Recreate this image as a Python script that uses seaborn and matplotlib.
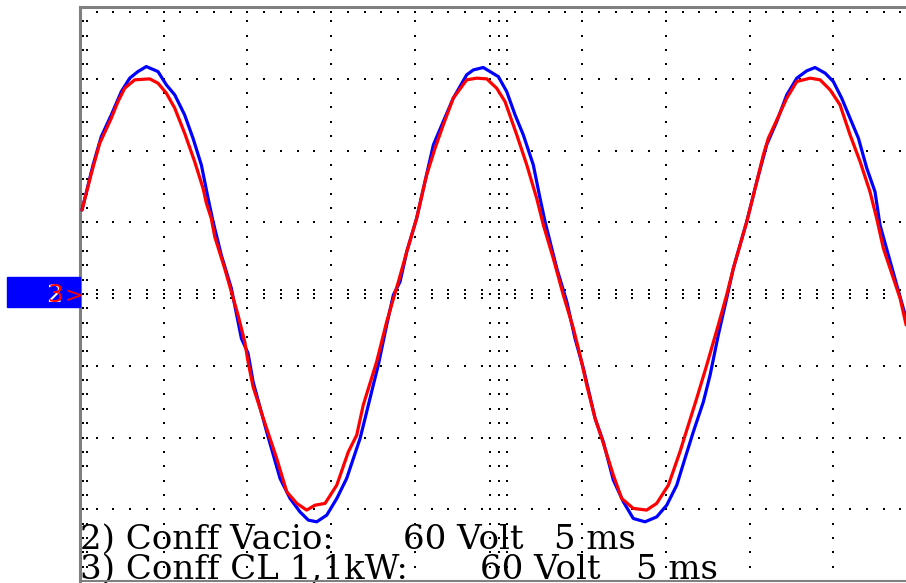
import numpy as np
import pandas as pd
import matplotlib
matplotlib.use("Agg")
import matplotlib.pyplot as plt
from matplotlib.patches import Rectangle
import seaborn as sns

# ---- data (time in ms, voltage in V) ----
blue_t = [0.12, 0.78, 1.27, 1.87, 2.47, 2.97, 3.46, 3.96, 4.66, 5.16, 5.66, 6.25, 6.75, 7.25,
          7.65, 7.95, 8.44, 9.04, 9.64, 10.04, 10.34, 11.15, 11.95, 12.55, 13.14, 13.64, 14.14,
          14.74, 15.34, 15.93, 16.33, 16.73, 17.03, 17.52, 17.82, 18.32, 18.72, 19.12, 19.52,
          20.11, 20.61, 21.11, 21.70, 22.30, 23.10, 23.50, 24.09, 24.99, 25.49, 25.99, 26.48,
          27.08, 27.48, 27.78, 28.48, 29.08, 29.57, 30.07, 30.77, 31.26, 31.86, 32.46, 33.05,
          33.75, 34.45, 35.05, 35.65, 36.14, 36.64, 37.24, 37.64, 38.13, 38.63, 39.03, 39.83,
          40.43, 41.02, 41.62, 42.22, 42.82, 43.41, 43.91, 44.51, 45.00, 45.50, 46.00, 46.50,
          47.00, 47.49, 47.79, 48.29, 48.79, 49.35]
blue_v = [70.3, 107.9, 131.6, 149.8, 169.3, 180.5, 186.0, 190.2, 186.0, 174.9, 166.5, 149.8,
          130.3, 107.9, 80.1, 60.5, 32.6, 4.8, -37.1, -49.6, -73.4, -115.2, -154.2, -171.0,
          -182.2, -189.1, -190.5, -184.9, -171.0, -154.2, -137.5, -120.8, -104.0, -76.1, -59.4,
          -25.9, -0.8, 10.3, 35.4, 63.3, 94.0, 124.7, 144.2, 163.8, 183.3, 187.4, 189.4, 181.8,
          169.3, 149.8, 133.1, 107.9, 80.1, 60.5, 21.5, -6.4, -37.1, -62.2, -104.0, -123.6,
          -155.6, -173.8, -187.7, -190.5, -186.4, -176.6, -159.8, -137.5, -115.2, -90.1, -67.8,
          -34.3, -3.6, 21.5, 60.5, 94.0, 124.7, 144.2, 166.5, 180.5, 186.6, 189.4, 184.7, 177.7,
          163.8, 147.0, 130.3, 105.2, 85.6, 57.7, 32.6, 7.5, -20.3]

red_t = [0.12, 0.68, 1.18, 1.87, 2.27, 2.67, 3.27, 4.16, 4.66, 5.16, 5.66, 6.25, 6.85, 7.35,
         7.55, 7.84, 8.05, 8.64, 9.04, 9.44, 9.84, 10.04, 10.34, 10.95, 11.75, 12.35, 12.95,
         13.54, 14.04, 14.64, 15.34, 16.03, 16.53, 16.92, 17.72, 18.32, 19.02, 19.52, 20.11,
         20.61, 20.71, 21.21, 21.70, 22.30, 23.10, 23.70, 24.30, 24.89, 25.39, 26.09, 26.69,
         27.28, 27.68, 28.27, 28.87, 29.47, 29.87, 30.27, 30.77, 31.17, 31.86, 32.36, 33.05,
         33.85, 34.45, 35.15, 35.84, 36.34, 36.84, 37.44, 38.13, 38.63, 39.03, 39.83, 40.43,
         40.82, 41.12, 41.72, 42.22, 42.82, 43.61, 44.21, 44.81, 45.40, 46.00, 46.60, 47.19,
         47.59, 47.99, 48.59, 48.99, 49.35]
red_v = [70.3, 101.0, 126.1, 147.0, 160.9, 172.1, 179.1, 179.9, 176.3, 167.9, 155.4, 134.5,
         110.7, 88.4, 75.9, 63.3, 47.9, 21.5, 1.9, -17.6, -39.9, -56.7, -77.6, -104.0, -137.5,
         -165.4, -175.1, -180.7, -176.6, -175.1, -159.8, -132.0, -118.0, -92.9, -56.7, -23.2,
         10.3, 35.4, 63.3, 94.0, 99.6, 121.9, 141.4, 163.8, 179.1, 180.5, 179.9, 172.1, 160.9,
         133.1, 107.9, 80.1, 57.7, 29.9, -0.8, -28.7, -51.0, -76.1, -104.0, -120.8, -151.5,
         -171.0, -179.3, -180.7, -175.1, -159.8, -132.0, -109.6, -87.3, -59.4, -25.9, -0.8,
         21.5, 60.5, 94.0, 116.3, 130.3, 148.4, 163.8, 177.7, 180.5, 179.1, 170.7, 158.2,
         133.1, 110.7, 85.6, 63.3, 38.2, 13.1, -3.6, -25.9]

label_names = ["2) Conff Vacio:", "3) Conff CL 1,1kW:"]
label_scale = ["60 Volt", "60 Volt"]
label_time = ["5 ms", "5 ms"]
channel_marker = ["2", "3", ">"]

# ---- figure ----
sns.set_style("white")
W, H = 906, 583
fig = plt.figure(figsize=(W / 100, H / 100), dpi=100)
ax = fig.add_axes([80 / W, 2 / H, 837 / W, 574 / H])
ax.set_xlim(0, 50)
ax.set_ylim(-240, 240)
ax.set_xticks([])
ax.set_yticks([])
for s in ["left", "top", "bottom", "right"]:
    ax.spines[s].set_color("#808080")
ax.spines["left"].set_linewidth(2.2)
ax.spines["top"].set_linewidth(2.2)
ax.spines["bottom"].set_linewidth(1.5)
ax.spines["right"].set_linewidth(1.5)

# dotted oscilloscope graticule
gx, gy = [], []
minor_t = np.arange(0, 50.01, 1.0)
minor_v = np.arange(-240, 240.01, 12.0)
for k in range(1, 10):
    for v in minor_v:
        gx.append(5.0 * k); gy.append(v)
for vm in [-180, -120, -60, 0, 60, 120, 180]:
    for t in minor_t:
        gx.append(t); gy.append(vm)
for t in minor_t:          # ticks on center row and top edge
    gx += [t, t, t]; gy += [-3.5, 3.5, 235.5]
for v in minor_v:          # ticks on center column and left edge
    gx += [24.5, 25.5, 0.18, 0.42]; gy += [v, v, v, v]
ax.scatter(gx, gy, s=1.6, marker="s", color="black", linewidths=0, zorder=2)

df_b = pd.DataFrame({"t": blue_t, "v": blue_v})
df_r = pd.DataFrame({"t": red_t, "v": red_v})
sns.lineplot(data=df_b, x="t", y="v", ax=ax, color="#0000FF", lw=2.3,
             sort=False, estimator=None, zorder=3)
sns.lineplot(data=df_r, x="t", y="v", ax=ax, color="#FF0000", lw=2.3,
             sort=False, estimator=None, zorder=4)
ax.set_xlabel("")
ax.set_ylabel("")

# bottom labels (placed in pieces, drawn under the graticule dots)
tf = fig.transFigure
rows = [(549, [80, 403, 554]), (579, [80, 480, 636])]
for i, (base, xs) in enumerate(rows):
    for txt, xp in zip([label_names[i], label_scale[i], label_time[i]], xs):
        ax.text(xp / W, 1 - base / H, txt, transform=tf, family="DejaVu Serif",
                fontsize=24.5, va="baseline", ha="left", color="black",
                zorder=1, clip_on=False)

# channel marker on the left
fig.patches.append(Rectangle((7 / W, 1 - 307 / H), 73 / W, 30 / H,
                             transform=tf, color="#0000FF", zorder=5))
fig.text(54 / W, 1 - 295 / H, channel_marker[0], family="DejaVu Sans", fontsize=18,
         color="white", ha="center", va="center", zorder=6)
fig.text(55 / W, 1 - 295 / H, channel_marker[1], family="DejaVu Sans", fontsize=18,
         color="#FF0000", ha="center", va="center", zorder=7)
fig.text(74 / W, 1 - 296 / H, channel_marker[2], family="DejaVu Sans", fontsize=16,
         color="#FF0000", ha="center", va="center", zorder=7)

fig.savefig("out.png", dpi=100)
